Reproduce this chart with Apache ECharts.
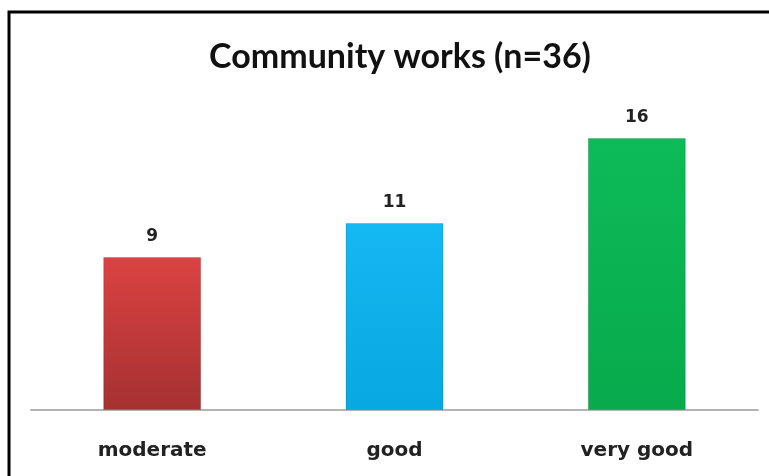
<!DOCTYPE html>
<html>
<head>
<meta charset="utf-8">
<script src="https://cdn.jsdelivr.net/npm/echarts@6/dist/echarts.min.js"></script>
<style>
  html, body { margin: 0; padding: 0; background: #fff; }
  #chart { width: 769px; height: 476px; }
</style>
</head>
<body>
<div id="chart"></div>
<script>
var titleText = 'Community works (n=36)';
var categories = ['moderate', 'good', 'very good'];
var counts = [9, 11, 16];
// top / bottom colour of each bar
var barColors = [
    ['#dc4242', '#a53131'],
    ['#14b8f2', '#08a8e2'],
    ['#0dbb58', '#08aa4c']
];

var myChart = echarts.init(document.getElementById('chart'));

var option = {
    backgroundColor: '#ffffff',
    animation: false,
    title: {
        text: titleText,
        left: 395,
        top: 35,
        textAlign: 'center',
        textStyle: {
            fontFamily: 'Lato',
            fontWeight: 'bold',
            fontSize: 34,
            color: '#111'
        }
    },
    // frame round the chart (right and bottom sides run off the picture)
    graphic: [{
        type: 'rect',
        shape: { x: 9, y: 12, width: 800, height: 500 },
        style: { fill: 'none', stroke: '#000', lineWidth: 3 }
    }],
    grid: { left: 31, right: 11, top: 104, bottom: 66 },
    xAxis: {
        type: 'category',
        data: categories,
        axisLine: { lineStyle: { color: '#b4b4b4', width: 2 } },
        axisTick: { show: false },
        axisLabel: {
            margin: 31,
            fontFamily: 'DejaVu Sans',
            fontWeight: 'bold',
            fontSize: 20,
            color: '#222'
        }
    },
    yAxis: {
        type: 'value',
        min: 0,
        max: 18,
        show: false,
        splitLine: { show: false }
    },
    series: [{
        type: 'bar',
        barWidth: 98,
        data: counts.map(function (v, i) {
            return {
                value: v,
                itemStyle: {
                    color: new echarts.graphic.LinearGradient(0, 0, 0, 1, [
                        { offset: 0, color: barColors[i][0] },
                        { offset: 1, color: barColors[i][1] }
                    ]),
                    borderColor: 'rgba(0,0,0,0.15)',
                    borderWidth: 1
                }
            };
        }),
        label: {
            show: true,
            position: 'top',
            distance: 12,
            fontFamily: 'DejaVu Sans',
            fontWeight: 'bold',
            fontSize: 17,
            color: '#222'
        }
    }]
};
myChart.setOption(option);
</script>
</body>
</html>
